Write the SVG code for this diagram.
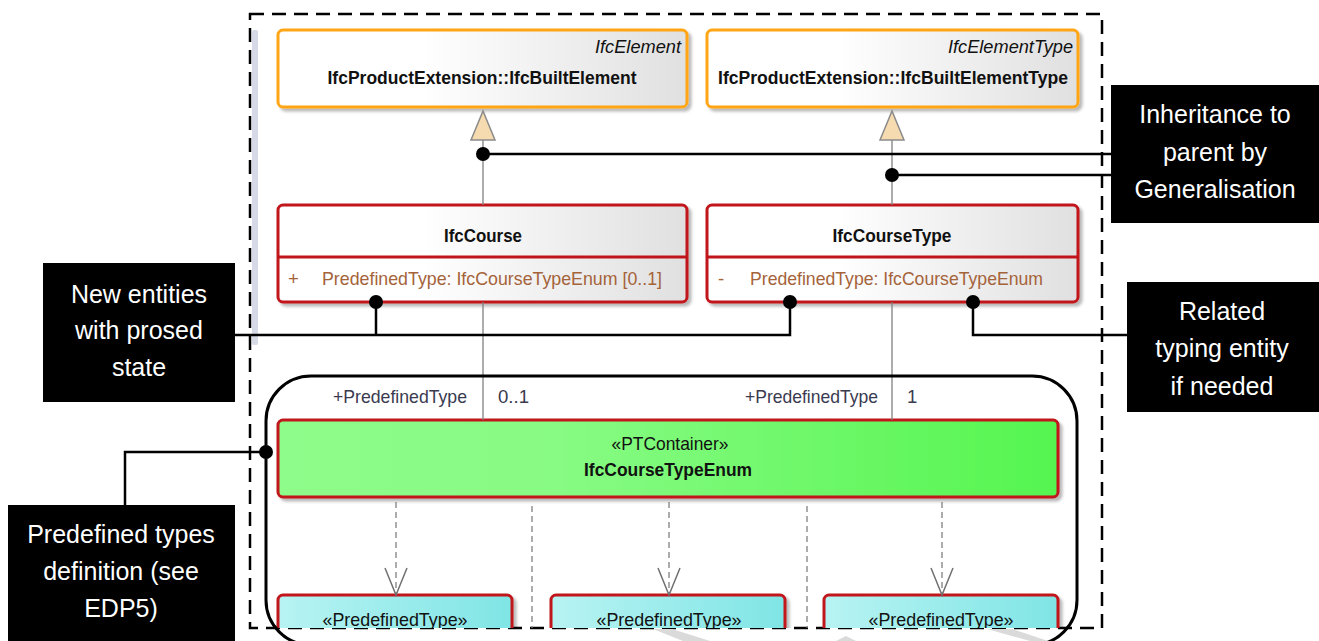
<svg xmlns="http://www.w3.org/2000/svg" width="1319" height="641" viewBox="0 0 1319 641">
<defs>
<linearGradient id="gWhite" x1="0" y1="0" x2="1" y2="0">
<stop offset="0" stop-color="#ffffff"/><stop offset="0.35" stop-color="#ffffff"/><stop offset="1" stop-color="#e0e0e0"/>
</linearGradient>
<linearGradient id="gGreen" x1="0" y1="0" x2="1" y2="0">
<stop offset="0" stop-color="#8efc8a"/><stop offset="0.35" stop-color="#88fb84"/><stop offset="1" stop-color="#55f550"/>
</linearGradient>
<linearGradient id="gCyan" x1="0" y1="0" x2="1" y2="0">
<stop offset="0" stop-color="#b8f3f3"/><stop offset="1" stop-color="#80e5e5"/>
</linearGradient>
<filter id="sh" x="-5%" y="-10%" width="115%" height="130%">
<feDropShadow dx="3" dy="3" stdDeviation="1.5" flood-color="#000" flood-opacity="0.28"/>
</filter>
<clipPath id="clipDiag"><rect x="0" y="0" width="1319" height="628"/></clipPath>
<style>
.orange{fill:url(#gWhite);stroke:#ffa514;stroke-width:3;filter:url(#sh)}
.red{fill:url(#gWhite);stroke:#c0141a;stroke-width:3;filter:url(#sh)}
.green{fill:url(#gGreen);stroke:#c0141a;stroke-width:3;filter:url(#sh)}
.cyan{fill:url(#gCyan);stroke:#c0141a;stroke-width:3;filter:url(#sh)}
.t{font-family:"Liberation Sans",Arial,sans-serif;font-size:18.5px;fill:#111}
.b{font-weight:bold}
.i{font-style:italic}
.mid{text-anchor:middle}
.end{text-anchor:end}
.attr{fill:#a5633a}
.lbl{fill:#3a3a50}
.ann{font-family:"Liberation Sans",Arial,sans-serif;font-size:25px;fill:#ffffff;text-anchor:middle}
.box{fill:#000}
.assoc{stroke:#808080;stroke-width:1.3;fill:none}
.dash{stroke:#808080;stroke-width:1.3;fill:none;stroke-dasharray:6 4}
.head{stroke:#707070;stroke-width:1.5;fill:none}
.gen{fill:#f7dbb0;stroke:#8a8a8a;stroke-width:1.5}
.call{stroke:#000;stroke-width:2.5;fill:none}
.dot{fill:#000}
</style>
</defs>
<rect x="0" y="0" width="1319" height="641" fill="#ffffff"/>

<g id="frame">
<rect x="252" y="30" width="6" height="315" rx="2" fill="#d6d9e6"/>
<rect x="250" y="14" width="852" height="614" fill="none" stroke="#000" stroke-width="2.5" stroke-dasharray="14 8"/>
</g>

<g id="stripes" fill="#dadada">
<polygon points="653,629 672,629 710,641 683,641"/>
<polygon points="987,629 1012,629 1048,641 1030,641"/>
<polygon points="836,641 846,636 856,641"/>
</g>

<g id="IfcBuiltElement">
<rect class="orange" x="278" y="30" width="409" height="77" rx="5"/>
<text class="t i end" x="681" y="53" textLength="86" lengthAdjust="spacingAndGlyphs">IfcElement</text>
<text class="t b mid" x="482" y="84" textLength="309" lengthAdjust="spacingAndGlyphs">IfcProductExtension::IfcBuiltElement</text>
</g>

<g id="IfcBuiltElementType">
<rect class="orange" x="707" y="30" width="371" height="77" rx="5"/>
<text class="t i end" x="1073" y="53" textLength="125" lengthAdjust="spacingAndGlyphs">IfcElementType</text>
<text class="t b mid" x="893" y="84" textLength="350" lengthAdjust="spacingAndGlyphs">IfcProductExtension::IfcBuiltElementType</text>
</g>

<g id="IfcCourse">
<rect class="red" x="278" y="205" width="409" height="97" rx="5"/>
<line x1="278" y1="257" x2="687" y2="257" stroke="#c0141a" stroke-width="3"/>
<text class="t b mid" x="483" y="242" textLength="78" lengthAdjust="spacingAndGlyphs">IfcCourse</text>
<text class="t attr" x="288" y="285">+</text>
<text class="t attr" x="322" y="285" textLength="340" lengthAdjust="spacingAndGlyphs">PredefinedType: IfcCourseTypeEnum [0..1]</text>
</g>

<g id="IfcCourseType">
<rect class="red" x="707" y="205" width="371" height="97" rx="5"/>
<line x1="707" y1="257" x2="1078" y2="257" stroke="#c0141a" stroke-width="3"/>
<text class="t b mid" x="892" y="242" textLength="119" lengthAdjust="spacingAndGlyphs">IfcCourseType</text>
<text class="t attr" x="718" y="285">-</text>
<text class="t attr" x="750" y="285" textLength="293" lengthAdjust="spacingAndGlyphs">PredefinedType: IfcCourseTypeEnum</text>
</g>

<g id="IfcCourseTypeEnum">
<rect class="green" x="278" y="420" width="780" height="77" rx="5"/>
<text class="t mid" x="670" y="450" textLength="117" lengthAdjust="spacingAndGlyphs">«PTContainer»</text>
<text class="t b mid" x="668" y="476" textLength="168" lengthAdjust="spacingAndGlyphs">IfcCourseTypeEnum</text>
</g>

<g clip-path="url(#clipDiag)">
<g id="PredefinedType1">
<rect class="cyan" x="278" y="595" width="234" height="60" rx="5"/>
<text class="t mid" x="395" y="626" textLength="145" lengthAdjust="spacingAndGlyphs">«PredefinedType»</text>
</g>
<g id="PredefinedType2">
<rect class="cyan" x="551" y="595" width="234" height="60" rx="5"/>
<text class="t mid" x="669" y="626" textLength="145" lengthAdjust="spacingAndGlyphs">«PredefinedType»</text>
</g>
<g id="PredefinedType3">
<rect class="cyan" x="824" y="595" width="234" height="60" rx="5"/>
<text class="t mid" x="941" y="626" textLength="145" lengthAdjust="spacingAndGlyphs">«PredefinedType»</text>
</g>
</g>

<g id="connectors">
<line class="assoc" x1="483" y1="140" x2="483" y2="205"/>
<polygon class="gen" points="483,111 471,140 495,140"/>
<line class="assoc" x1="892" y1="140" x2="892" y2="205"/>
<polygon class="gen" points="892,111 880,140 904,140"/>
<line class="assoc" x1="483" y1="302" x2="483" y2="420"/>
<line class="assoc" x1="892" y1="302" x2="892" y2="420"/>
<text class="t lbl end" x="467" y="403" textLength="134" lengthAdjust="spacingAndGlyphs">+PredefinedType</text>
<text class="t lbl" x="498" y="403" textLength="31" lengthAdjust="spacingAndGlyphs">0..1</text>
<text class="t lbl end" x="878" y="403" textLength="133" lengthAdjust="spacingAndGlyphs">+PredefinedType</text>
<text class="t lbl" x="907" y="403">1</text>
<line class="dash" x1="396" y1="502" x2="396" y2="594"/>
<polyline class="head" points="385,568 396,595 407,568"/>
<line class="dash" x1="669" y1="502" x2="669" y2="594"/>
<polyline class="head" points="658,568 669,595 680,568"/>
<line class="dash" x1="942" y1="502" x2="942" y2="594"/>
<polyline class="head" points="931,568 942,595 953,568"/>
<line class="dash" x1="532" y1="506" x2="532" y2="628"/>
<line class="dash" x1="807" y1="506" x2="807" y2="628"/>
</g>

<g id="container">
<rect x="266" y="376" width="811" height="269" rx="45" ry="45" fill="none" stroke="#000" stroke-width="3"/>
</g>

<g id="callouts">
<line class="call" x1="483" y1="154" x2="1111" y2="154"/>
<circle class="dot" cx="483" cy="154" r="7"/>
<line class="call" x1="892" y1="175" x2="1111" y2="175"/>
<circle class="dot" cx="892" cy="175" r="7"/>
<polyline class="call" points="235,335 790,335 790,302"/>
<line class="call" x1="376" y1="302" x2="376" y2="335"/>
<circle class="dot" cx="376" cy="302" r="7"/>
<circle class="dot" cx="790" cy="302" r="7"/>
<polyline class="call" points="973,302 973,335 1127,335"/>
<circle class="dot" cx="973" cy="302" r="7"/>
<polyline class="call" points="266,452 125,452 125,505"/>
<circle class="dot" cx="266" cy="452" r="7"/>
</g>

<g id="note-inheritance">
<rect class="box" x="1111" y="85" width="208" height="138"/>
<text class="ann" x="1215" y="123">Inheritance to</text>
<text class="ann" x="1215" y="161">parent by</text>
<text class="ann" x="1215" y="198">Generalisation</text>
</g>

<g id="note-related">
<rect class="box" x="1127" y="282" width="192" height="130"/>
<text class="ann" x="1222" y="320">Related</text>
<text class="ann" x="1222" y="357">typing entity</text>
<text class="ann" x="1222" y="395">if needed</text>
</g>

<g id="note-new">
<rect class="box" x="43" y="263" width="192" height="139"/>
<text class="ann" x="139" y="303">New entities</text>
<text class="ann" x="139" y="339">with prosed</text>
<text class="ann" x="139" y="376">state</text>
</g>

<g id="note-predefined">
<rect class="box" x="8" y="505" width="227" height="136"/>
<text class="ann" x="121" y="543">Predefined types</text>
<text class="ann" x="121" y="580">definition (see</text>
<text class="ann" x="121" y="617">EDP5)</text>
</g>
</svg>
